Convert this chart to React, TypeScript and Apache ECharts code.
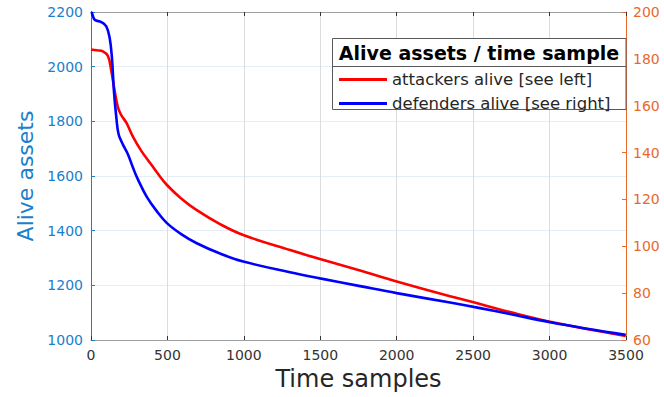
import React, { useEffect, useRef } from "react";
import * as echarts from "echarts";

// Time-sample positions and alive counts for each side
const attackersX = [0, 40, 78, 111, 133, 155, 177, 198, 232, 275, 329, 394, 438, 495, 590, 692, 844, 996, 1302, 1498, 1760, 2000, 2349, 2545, 2741, 3003, 3498];
const attackersAlive = [2063, 2060, 2056, 2039, 1984, 1911, 1849, 1823, 1794, 1743, 1692, 1642, 1608, 1568, 1518, 1475, 1424, 1384, 1329, 1296, 1254, 1214, 1160, 1132, 1102, 1067, 1015];

const defendersX = [0, 6, 24, 67, 100, 122, 137, 150, 166, 181, 209, 242, 275, 303, 364, 430, 495, 590, 692, 844, 996, 1302, 1498, 1760, 2000, 2349, 2545, 2741, 3003, 3498];
const defendersAlive = [200, 199.6, 196.7, 195.7, 193.9, 189.0, 180.4, 166.2, 154.8, 147.7, 143.4, 139.2, 133.5, 129.1, 121.2, 115.0, 110.0, 105.2, 101.3, 96.9, 93.5, 88.9, 86.3, 83.0, 80.0, 76.0, 73.6, 71.1, 67.6, 62.2];

const seriesNames = ["attackers alive [see left]", "defenders alive [see right]"];
const legendTitle = "Alive assets / time sample";
const xName = "Time samples";
const yLeftName = "Alive assets";

const FONT = "DejaVu Sans";
const LEFT_BLUE = "#1a80cc";
const RIGHT_ORANGE = "#e8692a";

const zip = (xs: number[], ys: number[]) => xs.map((x, i) => [x, ys[i]]);
const plain = (v: number) => String(v);

export default function App() {
  const ref = useRef<HTMLDivElement>(null);

  useEffect(() => {
    if (!ref.current) return;
    const chart = echarts.init(ref.current, null, { renderer: "svg" });

    const gridL = 91, gridR = 626, gridT = 12, gridB = 340;

    chart.setOption({
      animation: false,
      backgroundColor: "#ffffff",
      textStyle: { fontFamily: FONT },
      grid: { left: gridL, right: 664 - gridR, top: gridT, bottom: 397 - gridB, containLabel: false },
      xAxis: [
        {
          type: "value",
          position: "bottom",
          min: 0,
          max: 3500,
          interval: 500,
          name: xName,
          nameLocation: "middle",
          nameGap: 25,
          nameTextStyle: { fontFamily: FONT, fontSize: 24, color: "#262626" },
          axisLine: { show: true, onZero: false, lineStyle: { color: "#a0a0a0", width: 1 } },
          axisTick: { show: true, inside: true, length: 4, lineStyle: { color: "#333" } },
          axisLabel: { fontFamily: FONT, fontSize: 14, color: "#333", margin: 8, formatter: plain },
          splitLine: { show: true, lineStyle: { color: "#dcdcdc", width: 1 } },
        },
        {
          type: "value",
          position: "top",
          min: 0,
          max: 3500,
          interval: 500,
          axisLine: { show: true, onZero: false, lineStyle: { color: "#a0a0a0", width: 1 } },
          axisTick: { show: true, inside: true, length: 4, lineStyle: { color: "#333" } },
          axisLabel: { show: false },
          splitLine: { show: false },
        },
      ],
      yAxis: [
        {
          type: "value",
          position: "left",
          min: 1000,
          max: 2200,
          interval: 200,
          name: yLeftName,
          nameLocation: "middle",
          nameGap: 52,
          nameTextStyle: { fontFamily: FONT, fontSize: 22, color: LEFT_BLUE },
          axisLine: { show: true, onZero: false, lineStyle: { color: LEFT_BLUE, width: 1 } },
          axisTick: { show: true, inside: true, length: 4, lineStyle: { color: LEFT_BLUE } },
          axisLabel: { fontFamily: FONT, fontSize: 14, color: LEFT_BLUE, margin: 8, formatter: plain },
          splitLine: { show: true, lineStyle: { color: "#e4eef7", width: 1 } },
        },
        {
          type: "value",
          position: "right",
          min: 60,
          max: 200,
          interval: 20,
          axisLine: { show: true, onZero: false, lineStyle: { color: RIGHT_ORANGE, width: 1 } },
          axisTick: { show: true, inside: true, length: 4, lineStyle: { color: RIGHT_ORANGE } },
          axisLabel: { fontFamily: FONT, fontSize: 14, color: RIGHT_ORANGE, margin: 7, formatter: plain },
          splitLine: { show: false },
        },
      ],
      legend: {
        orient: "vertical",
        left: 339,
        top: 71,
        padding: 0,
        itemGap: 7,
        itemWidth: 48,
        itemHeight: 3,
        icon: "rect",
        z: 10,
        textStyle: { fontFamily: FONT, fontSize: 16.5, lineHeight: 14, color: "#262626" },
        data: seriesNames,
      },
      graphic: [
        {
          type: "rect",
          z: 3,
          shape: { x: 332.5, y: 38.5, width: 293.5, height: 71 },
          style: { fill: "#ffffff", stroke: "#5a5a5a", lineWidth: 1 },
        },
        {
          type: "line",
          z: 3,
          shape: { x1: 332.5, y1: 66.5, x2: 626, y2: 66.5 },
          style: { stroke: "#5a5a5a", lineWidth: 1 },
        },
        {
          type: "text",
          z: 4,
          x: 479,
          y: 52.5,
          style: {
            text: legendTitle,
            fontFamily: FONT,
            fontSize: 19,
            fontWeight: "bold",
            fill: "#000000",
            align: "center",
            verticalAlign: "middle",
          },
        },
      ],
      series: [
        {
          name: seriesNames[0],
          type: "line",
          xAxisIndex: 0,
          yAxisIndex: 0,
          data: zip(attackersX, attackersAlive),
          showSymbol: false,
          smooth: 0.4,
          lineStyle: { color: "#ff0000", width: 2.6 },
          itemStyle: { color: "#ff0000" },
        },
        {
          name: seriesNames[1],
          type: "line",
          xAxisIndex: 0,
          yAxisIndex: 1,
          data: zip(defendersX, defendersAlive),
          showSymbol: false,
          smooth: 0.4,
          lineStyle: { color: "#0000ff", width: 2.6 },
          itemStyle: { color: "#0000ff" },
        },
      ],
    });

    return () => chart.dispose();
  }, []);

  return (
    <div
      ref={ref}
      style={{ position: "absolute", left: 0, top: 0, width: 664, height: 397 }}
    />
  );
}
